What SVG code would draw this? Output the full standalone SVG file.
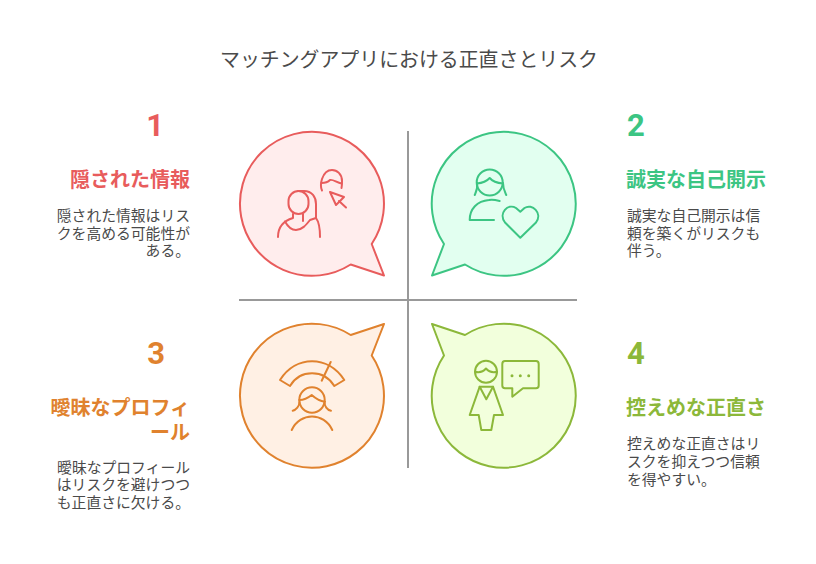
<svg xmlns="http://www.w3.org/2000/svg" width="816" height="564" viewBox="0 0 816 564">
<style>
text{font-family:"Noto Sans CJK JP","Noto Sans",sans-serif}
.t{font-size:19.900px;fill:#4a4a4a}
.n{font-size:31px;font-weight:700;font-family:Roboto,"Noto Sans",sans-serif}
.h{font-size:20px;font-weight:700}
.b{font-size:14.800px;fill:#4a4a4a}
.s{stroke-width:2;stroke-linecap:round;stroke-linejoin:round}
.i{fill:none;stroke-width:2;stroke-linecap:round;stroke-linejoin:round}
.r{fill:#e85c5c}.g{fill:#3cc583}.o{fill:#e0822e}.l{fill:#8cb83a}
.e{text-anchor:end}
</style>
<rect width="816" height="564" fill="#fff"/>
<text id="title" class="t" x="409" y="66.500" text-anchor="middle">マッチングアプリにおける正直さとリスク</text>
<g id="connectors" stroke="#999" stroke-width="2" fill="none">
<path d="M408 131V468"/><path d="M239 300H577"/>
</g>
<g id="node1">
<path class="s" fill="#ffeded" stroke="#e85c5c" d="M384 275.500L350.700 264.500A72 72 0 1 1 371.700 244Z"/>
<g class="i" stroke="#e85c5c">
<path d="M278 237C278 228 283 221 293 218V214M303 214V221"/>
<rect x="288.500" y="191" width="20" height="23" rx="10"/>
<path d="M298 191H304C312 191 316 197 316 204V218C319 222 320 229 320 237"/>
<path d="M285 221.500C288 227 292 230 296 230C302 230 306 225 310 220L316 218"/>
<path d="M322 190.500C320 186 321 182 322 179C324 173 328 170 332 170C337 170 342 174 342 181C342 184 342 186 341.500 188"/>
<path d="M321.500 183C325 183 328 182 330 180C333 179 337 183 341.500 183.500"/>
<path d="M330 192L344 197L336 205Z"/><path d="M339 201L346 207.500"/>
</g>
</g>
<g id="node2">
<path class="s" fill="#e2fff0" stroke="#3cc583" d="M432 275.500L465 264.500A72 72 0 1 0 444 244Z"/>
<g class="i" stroke="#3cc583">
<circle cx="489.700" cy="182.500" r="13"/>
<path d="M477 183.500C483 183 486 182 489.700 178C493 182 497 183 503 183.500"/>
<path d="M477 183C478 189 476 192 474.700 195M503 183C503 189 505 192 506.300 195"/>
<path d="M499.700 201C496 200 492 199 489 200C477 201 469.700 209 469.700 220H494"/>
<path d="M520.300 237.700L505 222.500C498 213 508 203 516 208L520.300 211.700L524.500 208C532 203 543 213 536 222.500Z"/>
</g>
</g>
<g id="node3">
<path class="s" fill="#fff0e4" stroke="#e0822e" d="M384 324L350.700 335A72 72 0 1 0 371.700 355.500Z"/>
<g class="i" stroke="#e0822e">
<path d="M280 380C296 355 328 355 344.300 380L334.300 386C324 369 300 369 290 386Z"/>
<path d="M330.700 362L321.700 380.700"/>
<circle cx="312" cy="400" r="12.700"/>
<path d="M299.300 400C305 400 308 398 311.700 395C315 398 319 401 325 401.700M299.500 402C299.500 406 296 410 292.700 410.700M324.500 402C324.500 406 327 410 331 410.700"/>
<path d="M291.700 430C300 412 324 412 332.300 430"/>
</g>
</g>
<g id="node4">
<path class="s" fill="#f2ffdc" stroke="#8cb83a" d="M432 324L465 335A72 72 0 1 1 444 355.500Z"/>
<g class="i" stroke="#8cb83a">
<circle cx="486" cy="371.700" r="11"/>
<path d="M475 371.700C480 373 483 372 486 368.500C489 372 492 373 497 371.700"/>
<path d="M479.700 386.700H493L503 415H494L491.300 430H481.300L478.700 415H469.700Z"/>
<path d="M479.700 386.700L486.300 399.300L493 386.700"/>
<path d="M505 361H536Q538.700 361 538.700 364V385.500Q538.700 388.300 536 388.300H523L512.300 396.700V388.300H505Q502.300 388.300 502.300 385.500V364Q502.300 361 505 361Z"/>
<path stroke-width="3" d="M512 375.700h.01M520.300 375.700h.01M528.700 375.700h.01"/>
</g>
</g>
<g id="item1">
<text class="n r e" x="164" y="136">1</text>
<text class="h r e" x="190" y="187">隠された情報</text>
<text class="b e" x="190" y="221">隠された情報はリス</text><text class="b e" x="190" y="238.500">クを高める可能性が</text><text class="b e" x="190" y="256">ある。</text>
</g>
<g id="item2">
<text class="n g" x="627" y="136">2</text>
<text class="h g" x="626" y="187">誠実な自己開示</text>
<text class="b" x="627" y="221">誠実な自己開示は信</text><text class="b" x="627" y="238.500">頼を築くがリスクも</text><text class="b" x="627" y="256">伴う。</text>
</g>
<g id="item3">
<text class="n o e" x="165" y="364">3</text>
<text class="h o e" x="190" y="415">曖昧なプロフィ</text><text class="h o e" x="190" y="440">ール</text>
<text class="b e" x="190" y="472.500">曖昧なプロフィール</text><text class="b e" x="190" y="490">はリスクを避けつつ</text><text class="b e" x="190" y="508">も正直さに欠ける。</text>
</g>
<g id="item4">
<text class="n l" x="627" y="364">4</text>
<text class="h l" x="626" y="415">控えめな正直さ</text>
<text class="b" x="627" y="448.500">控えめな正直さはリ</text><text class="b" x="627" y="466.500">スクを抑えつつ信頼</text><text class="b" x="627" y="484.500">を得やすい。</text>
</g>
</svg>
